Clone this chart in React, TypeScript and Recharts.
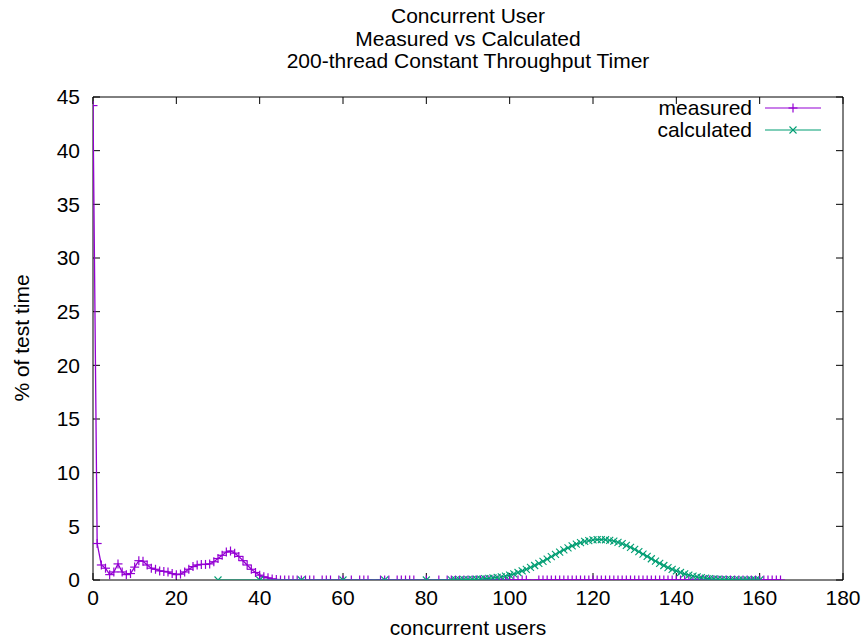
import React from "react"
import { ScatterChart, Scatter, XAxis, YAxis } from "recharts"

// measured: spike at 0, bumps around 11 and 33
const measuredUsers = [
  0, 1, 2, 3, 4, 5, 6, 7, 8, 9, 10, 11, 12, 13, 14, 15, 16, 17, 18, 19, 20, 21, 22,
  23, 24, 25, 26, 27, 28, 29, 30, 31, 32, 33, 34, 35, 36, 37, 38, 39, 40, 41, 42, 43, 44,
]
const measuredPct = [
  44.2, 3.4, 1.4, 1.1, 0.5, 0.75, 1.5, 0.75, 0.5, 0.6, 1.2, 1.8, 1.75, 1.4, 1.1, 1.0,
  0.85, 0.8, 0.75, 0.6, 0.5, 0.55, 0.75, 1.0, 1.25, 1.4, 1.45, 1.45, 1.5, 1.7, 2.0, 2.3,
  2.6, 2.7, 2.5, 2.2, 1.8, 1.4, 1.0, 0.7, 0.45, 0.3, 0.2, 0.1, 0.05,
]
// user counts where measured time is 0
const measuredZeroUsers = [
  45, 46, 47, 48, 49, 50, 51, 52, 53, 55, 56, 57, 59, 60, 62, 64, 65, 66, 69, 70, 71,
  73, 74, 75, 76, 77, 80, 83, 85, 86, 87, 88, 89, 90, 91, 92, 93, 94, 95, 96, 97, 98,
  99, 100, 101, 102, 103, 104, 107, 108, 109, 110, 111, 112, 113, 114, 115, 116, 117,
  118, 119, 120, 121, 122, 123, 124, 125, 126, 127, 128, 129, 130, 131, 132, 133, 134,
  135, 136, 137, 138, 139, 140, 141, 142, 143, 144, 145, 146, 147, 148, 149, 150, 151,
  152, 153, 154, 155, 156, 157, 158, 159, 160, 161, 162, 163, 164, 165,
]

const calculatedUsers = [
  30, 40, 50, 60, 70, 80, 86, 87, 88, 89, 90, 91, 92, 93, 94, 95, 96, 97, 98, 99, 100,
  101, 102, 103, 104, 105, 106, 107, 108, 109, 110, 111, 112, 113, 114, 115, 116, 117,
  118, 119, 120, 121, 122, 123, 124, 125, 126, 127, 128, 129, 130, 131, 132, 133, 134,
  135, 136, 137, 138, 139, 140, 141, 142, 143, 144, 145, 146, 147, 148, 149, 150, 151,
  152, 153, 154, 155, 156, 157, 158, 159, 160,
]
const calculatedPct = [
  0, 0, 0, 0, 0, 0, 0.01, 0.02, 0.02, 0.03, 0.04, 0.05, 0.07, 0.09, 0.12, 0.15, 0.19,
  0.24, 0.3, 0.37, 0.46, 0.57, 0.7, 0.85, 1.0, 1.17, 1.35, 1.54, 1.74, 1.95, 2.17, 2.39,
  2.6, 2.8, 3.0, 3.18, 3.34, 3.48, 3.59, 3.67, 3.73, 3.76, 3.77, 3.75, 3.7, 3.62, 3.51,
  3.38, 3.22, 3.04, 2.85, 2.64, 2.42, 2.2, 1.98, 1.76, 1.55, 1.35, 1.16, 0.99, 0.84, 0.7,
  0.57, 0.46, 0.37, 0.29, 0.22, 0.17, 0.13, 0.1, 0.07, 0.05, 0.04, 0.03, 0.02, 0.01,
  0.01, 0.01, 0, 0, 0,
]

const xTicks = [0, 20, 40, 60, 80, 100, 120, 140, 160, 180]
const yTicks = [0, 5, 10, 15, 20, 25, 30, 35, 40, 45]
const titleLines = ["Concurrent User", "Measured vs Calculated", "200-thread Constant Throughput Timer"]

const PURPLE = "#9400d3"
const GREEN = "#009e73"
const FONT = "'Liberation Sans', Arial, sans-serif"
const FS = 21

const measuredData = [
  ...measuredUsers.map((x, i) => ({ x, y: measuredPct[i] })),
  ...measuredZeroUsers.map((x) => ({ x, y: 0 })),
]
const calculatedData = calculatedUsers.map((x, i) => ({ x, y: calculatedPct[i] }))

const PlusMark = (props: any) => {
  const { cx, cy } = props
  if (cx == null || cy == null) return null
  return (
    <g stroke={PURPLE} strokeWidth={1.2}>
      <line x1={cx - 4.5} y1={cy} x2={cx + 4.5} y2={cy} />
      <line x1={cx} y1={cy - 4.5} x2={cx} y2={cy + 4.5} />
    </g>
  )
}

const CrossMark = (props: any) => {
  const { cx, cy } = props
  if (cx == null || cy == null) return null
  return (
    <g stroke={GREEN} strokeWidth={1.1}>
      <line x1={cx - 3.5} y1={cy - 3.5} x2={cx + 3.5} y2={cy + 3.5} />
      <line x1={cx - 3.5} y1={cy + 3.5} x2={cx + 3.5} y2={cy - 3.5} />
    </g>
  )
}

const tickStyle = { fill: "#000", fontSize: FS }

export default function App() {
  return (
    <div style={{ position: "absolute", left: 0, top: 0, width: 865, height: 640, fontFamily: FONT, color: "#000", background: "#fff" }}>
      <div style={{ position: "absolute", left: 93, width: 750, top: 5, textAlign: "center", fontSize: FS, lineHeight: "22.5px" }}>
        {titleLines.map((t) => (
          <div key={t}>{t}</div>
        ))}
      </div>

      <ScatterChart width={865} height={640} margin={{ top: 87, right: 12, bottom: 0, left: 0 }}>
        <XAxis
          xAxisId="b"
          type="number"
          dataKey="x"
          domain={[0, 180]}
          ticks={xTicks}
          interval={0}
          height={60}
          stroke="#000"
          tickSize={-7}
          tickMargin={17}
          tick={tickStyle}
          allowDataOverflow
        />
        <XAxis
          xAxisId="t"
          orientation="top"
          type="number"
          dataKey="x"
          domain={[0, 180]}
          ticks={xTicks}
          interval={0}
          height={10}
          stroke="#000"
          tickSize={-7}
          tickFormatter={() => ""}
          allowDataOverflow
        />
        <YAxis
          yAxisId="l"
          type="number"
          dataKey="y"
          domain={[0, 45]}
          ticks={yTicks}
          interval={0}
          width={93}
          stroke="#000"
          tickSize={-7}
          tickMargin={20}
          tick={tickStyle}
          allowDataOverflow
        />
        <YAxis
          yAxisId="r"
          orientation="right"
          type="number"
          dataKey="y"
          domain={[0, 45]}
          ticks={yTicks}
          interval={0}
          width={10}
          stroke="#000"
          tickSize={-7}
          tickFormatter={() => ""}
          allowDataOverflow
        />
        <Scatter
          name="measured"
          data={measuredData}
          xAxisId="b"
          yAxisId="l"
          line={{ stroke: PURPLE, strokeWidth: 1.3 }}
          lineType="joint"
          shape={PlusMark}
          isAnimationActive={false}
        />
        <Scatter
          name="calculated"
          data={calculatedData}
          xAxisId="b"
          yAxisId="l"
          line={{ stroke: GREEN, strokeWidth: 1.2 }}
          lineType="joint"
          shape={CrossMark}
          isAnimationActive={false}
        />
      </ScatterChart>

      {/* legend, top right inside the plot */}
      <div style={{ position: "absolute", top: 97, left: 560, width: 262, fontSize: FS, lineHeight: "22px" }}>
        {[
          { label: "measured", color: PURPLE, Mark: PlusMark },
          { label: "calculated", color: GREEN, Mark: CrossMark },
        ].map(({ label, color, Mark }) => (
          <div key={label} style={{ display: "flex", alignItems: "center", justifyContent: "flex-end", height: 22 }}>
            <span style={{ marginRight: 12 }}>{label}</span>
            <svg width={58} height={20}>
              <line x1={1} y1={10} x2={57} y2={10} stroke={color} strokeWidth={1.2} />
              <Mark cx={29} cy={10} />
            </svg>
          </div>
        ))}
      </div>

      <div style={{ position: "absolute", left: 93, width: 750, top: 616, textAlign: "center", fontSize: FS }}>
        concurrent users
      </div>
      <div
        style={{
          position: "absolute",
          left: 22,
          top: 338,
          fontSize: FS,
          whiteSpace: "nowrap",
          transform: "translate(-50%, -50%) rotate(-90deg)",
        }}
      >
        % of test time
      </div>
    </div>
  )
}
